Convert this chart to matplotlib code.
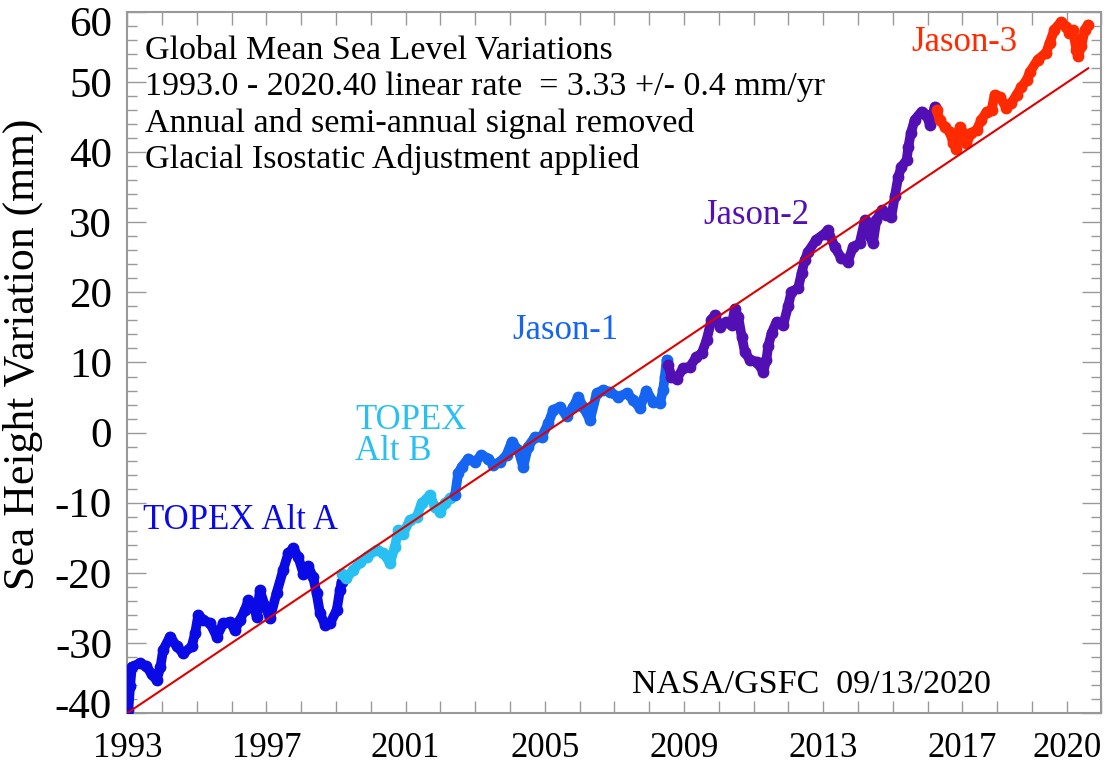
import matplotlib
matplotlib.use('Agg')
import matplotlib.pyplot as plt
from matplotlib.ticker import FixedLocator, FixedFormatter, MultipleLocator
from matplotlib.transforms import ScaledTranslation

# --- data (decimal year, mm) ---
topex_a_t = [1993.03, 1993.08, 1993.13, 1993.36, 1993.55, 1993.70, 1993.84, 1993.95,
             1994.03, 1994.23, 1994.42, 1994.61, 1994.85, 1994.95, 1995.04, 1995.18,
             1995.38, 1995.57, 1995.76, 1995.95, 1996.09, 1996.24, 1996.38, 1996.48,
             1996.62, 1996.72, 1996.81, 1996.96, 1997.10, 1997.29, 1997.48, 1997.63,
             1997.77, 1997.91, 1998.06, 1998.20, 1998.34, 1998.44, 1998.54, 1998.68,
             1998.83, 1999.02, 1999.11, 1999.16]
topex_a_v = [-39.6, -36.2, -33.4, -32.9, -33.3, -34.5, -35.3, -33.5,
             -31.0, -29.1, -30.5, -31.5, -30.5, -28.6, -26.0, -26.7,
             -27.2, -29.1, -27.2, -27.0, -28.2, -26.7, -25.3, -23.9,
             -24.6, -26.3, -22.5, -24.8, -26.5, -22.9, -19.6, -17.2,
             -16.5, -17.7, -20.1, -19.1, -20.6, -22.9, -25.8, -27.4,
             -27.2, -25.3, -22.5, -21.3]

topex_b_t = [1999.16, 1999.30, 1999.49, 1999.70, 1999.88, 2000.17, 2000.36, 2000.55,
             2000.69, 2000.79, 2000.93, 2001.12, 2001.32, 2001.46, 2001.70, 2001.84,
             2001.99, 2002.13, 2002.27]
topex_b_v = [-20.1, -20.8, -19.6, -18.5, -17.7, -16.7, -17.2, -18.6,
             -16.3, -13.9, -14.4, -12.5, -12.0, -10.1, -8.9, -10.6,
             -11.3, -10.1, -9.4]

jason1_t = [2002.42, 2002.51, 2002.61, 2002.80, 2002.99, 2003.18, 2003.38, 2003.52,
            2003.71, 2003.90, 2004.05, 2004.24, 2004.38, 2004.52, 2004.72, 2004.91,
            2005.10, 2005.24, 2005.43, 2005.63, 2005.82, 2005.96, 2006.10, 2006.30,
            2006.49, 2006.68, 2006.87, 2007.11, 2007.35, 2007.54, 2007.73, 2007.92,
            2008.11, 2008.31, 2008.40, 2008.45, 2008.50]
jason1_v = [-8.9, -5.8, -4.9, -3.7, -4.2, -3.2, -3.7, -4.6,
            -4.2, -3.2, -1.3, -2.5, -4.9, -2.0, -0.6, -0.6,
            1.3, 3.2, 3.7, 2.3, 3.7, 5.1, 3.7, 1.8,
            5.6, 6.1, 5.8, 5.1, 5.6, 4.7, 3.5, 6.0,
            4.4, 4.2, 6.1, 8.0, 10.4]

jason2_t = [2008.55, 2008.64, 2008.79, 2008.98, 2009.17, 2009.36, 2009.51, 2009.65,
            2009.79, 2009.89, 2010.03, 2010.22, 2010.37, 2010.46, 2010.56, 2010.66,
            2010.75, 2010.89, 2011.09, 2011.28, 2011.37, 2011.42, 2011.52, 2011.66,
            2011.85, 2011.99, 2012.09, 2012.28, 2012.38, 2012.47, 2012.57, 2012.80,
            2013.04, 2013.14, 2013.33, 2013.52, 2013.71, 2013.86, 2014.05, 2014.20,
            2014.34, 2014.43, 2014.53, 2014.68, 2014.82, 2014.96, 2015.06, 2015.16,
            2015.25, 2015.40, 2015.45, 2015.52, 2015.63, 2015.83, 2015.97, 2016.07,
            2016.21]
jason2_v = [9.6, 8.0, 7.7, 9.2, 9.4, 10.8, 11.3, 13.2,
            16.1, 16.8, 15.1, 15.8, 15.3, 17.7, 16.5, 13.7,
            11.5, 10.4, 10.1, 8.7, 10.4, 12.3, 14.2, 15.8,
            15.3, 18.0, 20.1, 20.6, 22.7, 24.6, 25.8, 27.5,
            28.4, 28.9, 26.5, 24.9, 24.4, 26.5, 27.0, 30.3,
            28.0, 27.0, 30.3, 31.7, 31.0, 30.8, 33.7, 36.5,
            37.9, 38.9, 40.8, 42.7, 44.6, 45.8, 45.3, 43.9,
            46.5]

jason3_t = [2016.26, 2016.35, 2016.50, 2016.64, 2016.74, 2016.83, 2016.93, 2017.03,
            2017.12, 2017.26, 2017.41, 2017.55, 2017.70, 2017.84, 2017.93, 2018.08,
            2018.27, 2018.41, 2018.56, 2018.70, 2018.85, 2018.95, 2019.17, 2019.41,
            2019.51, 2019.65, 2019.84, 2019.99, 2020.08, 2020.18, 2020.28, 2020.33,
            2020.42, 2020.52, 2020.62]
jason3_v = [46.0, 44.6, 43.6, 42.9, 41.3, 40.5, 43.6, 42.7,
            41.3, 42.7, 43.2, 44.6, 45.8, 46.0, 48.2, 47.9,
            46.3, 47.0, 48.2, 49.3, 50.3, 51.5, 53.2, 54.2,
            55.6, 57.5, 58.6, 57.9, 57.0, 57.4, 54.6, 53.7,
            55.1, 57.5, 58.2]

# linear trend as quoted on the chart
trend_start, trend_end = 1993.0, 2020.62
trend_offset = -40.0
trend_rate = 3.33

year_ticks = list(range(1993, 2022))
year_labels = [1993, 1997, 2001, 2005, 2009, 2013, 2017, 2020]

SERIF = 'Liberation Serif'
AXIS_GRAY = '#999999'

missions = [
    ('TOPEX Alt A', topex_a_t, topex_a_v, '#0A0AE6'),
    ('TOPEX\nAlt B', topex_b_t, topex_b_v, '#28C0F2'),
    ('Jason-1', jason1_t, jason1_v, '#1565F2'),
    ('Jason-2', jason2_t, jason2_v, '#5210B4'),
    ('Jason-3', jason3_t, jason3_v, '#FF2A00'),
]
label_pos = {
    'TOPEX Alt A': (0.016, 0.275),
    'TOPEX\nAlt B': (0.234, 0.395),
    'Jason-1': (0.395, 0.546),
    'Jason-2': (0.591, 0.710),
    'Jason-3': (0.805, 0.957),
}

plt.rcParams['font.family'] = SERIF
plt.rcParams['axes.unicode_minus'] = False

fig = plt.figure(figsize=(11.07, 7.68), dpi=100)
ax = fig.add_axes([0.115, 0.0716, 0.880, 0.9128])

for name, t, v, col in missions:
    ax.plot(t, v, color=col, lw=7, solid_capstyle='round', solid_joinstyle='round',
            marker='o', ms=7.5, zorder=3)
    lx, ly = label_pos[name]
    ax.text(lx, ly, name, transform=ax.transAxes, color=col, fontsize=25,
            ha='left', va='center', linespacing=0.95)

ax.plot([trend_start, trend_end],
        [trend_offset, trend_offset + trend_rate * (trend_end - trend_start)],
        color='#E00000', lw=1.5, zorder=4)

ax.set_xlim(1993, 2021)
ax.set_ylim(-40, 60)

ax.xaxis.set_major_locator(FixedLocator(year_ticks))
ax.xaxis.set_major_formatter(FixedFormatter(
    [str(y) if y in year_labels else '' for y in year_ticks]))
ax.yaxis.set_major_locator(MultipleLocator(10))
ax.yaxis.set_minor_locator(MultipleLocator(2))

ax.tick_params(axis='x', which='major', direction='in', length=9, width=1,
               color=AXIS_GRAY, top=True, labelsize=25, pad=14)
ax.tick_params(axis='y', which='major', direction='in', length=14, width=1,
               color=AXIS_GRAY, right=True, labelsize=31, pad=11)
ax.tick_params(axis='y', which='minor', direction='in', length=7, width=1,
               color=AXIS_GRAY, right=True)
for s in ax.spines.values():
    s.set_color(AXIS_GRAY)
    s.set_linewidth(1.5)

ax.set_ylabel('Sea Height Variation (mm)', fontsize=31.5)
ax.yaxis.set_label_coords(-0.087, 0.511)

notes = ['Global Mean Sea Level Variations',
         '1993.0 - 2020.40 linear rate  = 3.33 +/- 0.4 mm/yr',
         'Annual and semi-annual signal removed',
         'Glacial Isostatic Adjustment applied']
for i, line in enumerate(notes):
    ax.text(0.018, 0.945 - i * 0.052, line, transform=ax.transAxes,
            fontsize=24.5, ha='left', va='center')

ax.text(0.518, 0.040, 'NASA/GSFC  09/13/2020', transform=ax.transAxes,
        fontsize=24.5, ha='left', va='center')

# nudge the end labels inward so they stay inside the figure
fig.canvas.draw()
for tick in ax.yaxis.get_major_ticks():
    if tick.get_loc() >= 60:
        shift = ScaledTranslation(0, -7 / 72, fig.dpi_scale_trans)
        tick.label1.set_transform(tick.label1.get_transform() + shift)
    elif tick.get_loc() <= -40:
        shift = ScaledTranslation(0, 7 / 72, fig.dpi_scale_trans)
        tick.label1.set_transform(tick.label1.get_transform() + shift)

fig.savefig('out.png', dpi=100, facecolor='white')
